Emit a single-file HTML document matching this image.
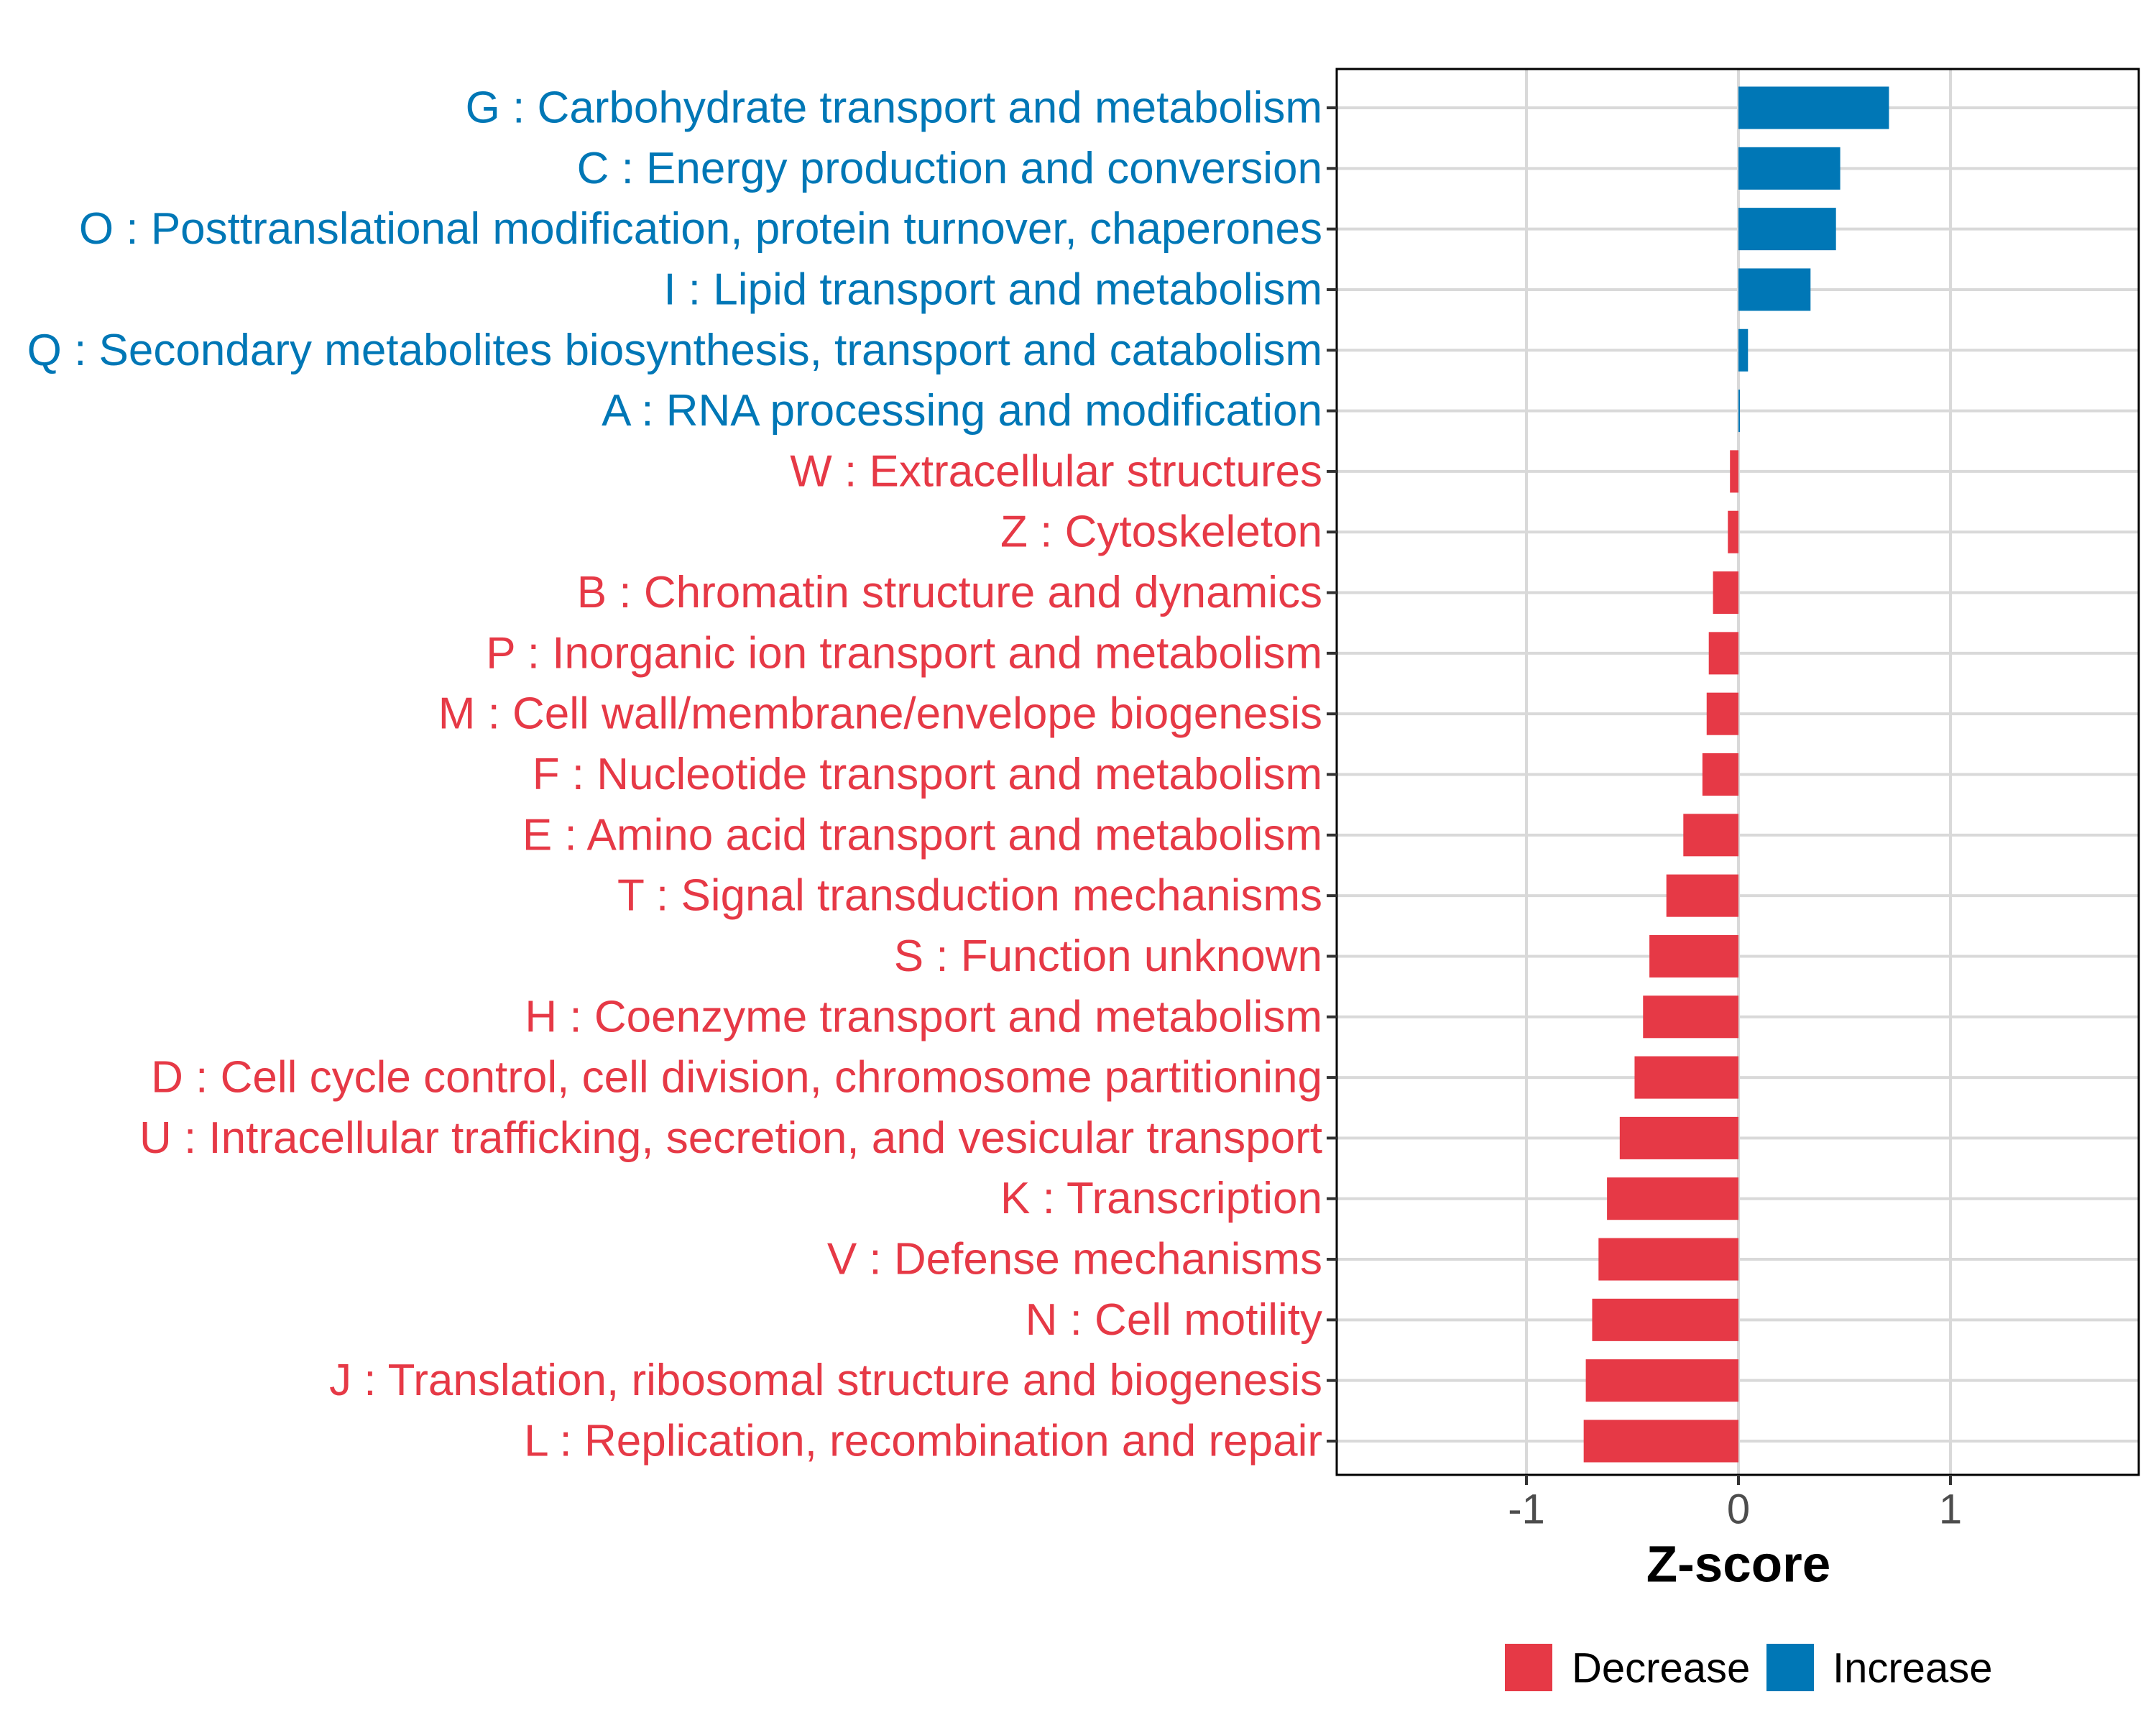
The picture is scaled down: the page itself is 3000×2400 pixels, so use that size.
<!DOCTYPE html>
<html><head><meta charset="utf-8"><style>html,body{margin:0;padding:0;background:#fff}svg{display:block}</style></head>
<body>
<svg id="chart" width="3000" height="2400" xmlns="http://www.w3.org/2000/svg" font-family="Liberation Sans, sans-serif"></svg>
<script>
const categories = ["G : Carbohydrate transport and metabolism","C : Energy production and conversion","O : Posttranslational modification, protein turnover, chaperones","I : Lipid transport and metabolism","Q : Secondary metabolites biosynthesis, transport and catabolism","A : RNA processing and modification","W : Extracellular structures","Z : Cytoskeleton","B : Chromatin structure and dynamics","P : Inorganic ion transport and metabolism","M : Cell wall/membrane/envelope biogenesis","F : Nucleotide transport and metabolism","E : Amino acid transport and metabolism","T : Signal transduction mechanisms","S : Function unknown","H : Coenzyme transport and metabolism","D : Cell cycle control, cell division, chromosome partitioning","U : Intracellular trafficking, secretion, and vesicular transport","K : Transcription","V : Defense mechanisms","N : Cell motility","J : Translation, ribosomal structure and biogenesis","L : Replication, recombination and repair"];
const zscores = [0.71,0.48,0.46,0.34,0.045,0.007,-0.04,-0.05,-0.12,-0.14,-0.15,-0.17,-0.26,-0.34,-0.42,-0.45,-0.49,-0.56,-0.62,-0.66,-0.69,-0.72,-0.73];
const xTicks = [-1,0,1];
const xTickLabels = ["-1","0","1"];
const legendLabels = ["Decrease","Increase"];

const NS="http://www.w3.org/2000/svg";
const svg=document.getElementById('chart');
const L=1860,R=2976,T=96,B=2052;
const Z0=2419,UNIT=295;
const RED="#E63946",BLUE="#0077B6";
function x(v){return Z0+v*UNIT;}
const step=(2005-150)/(categories.length-1);
function y(i){return 150+i*step;}
function mk(tag,attrs,parent){const e=document.createElementNS(NS,tag);for(const k in attrs)e.setAttribute(k,attrs[k]);(parent||svg).appendChild(e);return e;}

xTicks.forEach((t,i)=>{
  const g=mk('line',{x1:x(t),x2:x(t),y1:T,y2:B,stroke:'#d9d9d9','stroke-width':4});
  
  
});
categories.forEach((c,i)=>{
  const g=mk('line',{x1:L,x2:R,y1:y(i),y2:y(i),stroke:'#d9d9d9','stroke-width':4});
  
  
});
const bh=step*0.7;
zscores.forEach((v,i)=>{
  const x0=x(Math.min(0,v)),w=Math.abs(x(v)-x(0));
  const r=mk('rect',{x:x0,y:y(i)-bh/2,width:Math.max(w,1.5),height:bh,fill:v>=0?BLUE:RED});
  
  
});
const fr=mk('rect',{x:L,y:T,width:R-L,height:B-T,fill:'none',stroke:'#000','stroke-width':3});


categories.forEach((c,i)=>{
  mk('line',{x1:L-14,x2:L,y1:y(i),y2:y(i),stroke:'#333','stroke-width':4});
  const t=mk('text',{x:1840,y:y(i),'text-anchor':'end','dominant-baseline':'central','font-size':62,fill:zscores[i]>=0?BLUE:RED});
  t.textContent=c;
  
  
});
xTicks.forEach((v,i)=>{
  mk('line',{x1:x(v),x2:x(v),y1:B,y2:B+14,stroke:'#333','stroke-width':4});
  const t=mk('text',{x:x(v),y:2100,'text-anchor':'middle','dominant-baseline':'central','font-size':58,fill:'#4d4d4d'});
  t.textContent=xTickLabels[i];
  
  
});
const xt=mk('text',{x:x(0),y:2177,'text-anchor':'middle','dominant-baseline':'central','font-size':71,'font-weight':'bold',fill:'#000'});
xt.textContent='Z-score';


const lx=[2094,2458],tx=[2187,2550],cols=[RED,BLUE];
legendLabels.forEach((lab,i)=>{
  const k=mk('rect',{x:lx[i],y:2287,width:66,height:66,fill:cols[i]});
  
  
  const t=mk('text',{x:tx[i],y:2321,'dominant-baseline':'central','font-size':58,fill:'#000'});
  t.textContent=lab;
  
  
});
</script>
</body></html>
